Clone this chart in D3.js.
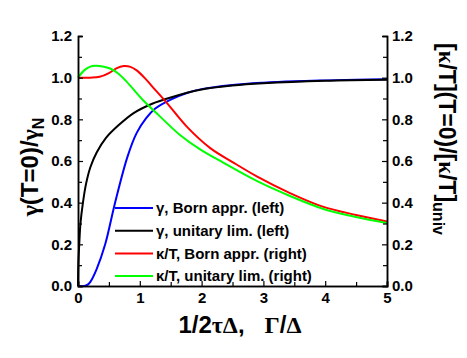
<!DOCTYPE html>
<html>
<head>
<meta charset="utf-8">
<script src="https://cdn.jsdelivr.net/npm/d3@7"></script>
<style>
  body { margin: 0; background: #fff; }
  text { font-family: "Liberation Sans", Arial, sans-serif; font-weight: bold; }
</style>
</head>
<body>
<div id="chart"></div>
<script>
var width = 467, height = 358,
    margin = {top: 36, right: 80, bottom: 72, left: 78};

// gamma, Born approximation (left axis)
var bornGammaX = [0, 0.1, 0.15, 0.2, 0.3, 0.44, 0.6, 0.8, 0.95, 1.1, 1.25, 1.5, 1.75, 2.0, 2.5, 3.0, 3.5, 4.0, 4.5, 5.0];
var bornGammaY = [0, 0, 0.005, 0.02, 0.08, 0.2, 0.4, 0.62, 0.735, 0.805, 0.852, 0.895, 0.925, 0.945, 0.965, 0.976, 0.983, 0.987, 0.99, 0.992];
// gamma, unitary limit (left axis)
var unitGammaX = [0, 0.005, 0.02, 0.04, 0.08, 0.13, 0.2, 0.3, 0.45, 0.65, 0.9, 1.2, 1.5, 2.0, 2.5, 3.0, 4.0, 5.0];
var unitGammaY = [0, 0.1, 0.2, 0.3, 0.4, 0.49, 0.57, 0.64, 0.71, 0.77, 0.83, 0.875, 0.905, 0.943, 0.962, 0.973, 0.985, 0.99];
// kappa/T, Born approximation (right axis)
var bornKappaX = [0, 0.2, 0.35, 0.5, 0.62, 0.74, 0.85, 0.95, 1.1, 1.21, 1.44, 1.76, 2.14, 2.5, 2.9, 3.43, 3.96, 4.5, 5.0];
var bornKappaY = [1.0, 1.0, 1.004, 1.022, 1.045, 1.056, 1.052, 1.035, 0.992, 0.955, 0.878, 0.765, 0.662, 0.595, 0.525, 0.446, 0.381, 0.341, 0.31];
// kappa/T, unitary limit (right axis)
var unitKappaX = [0, 0.1, 0.2, 0.28, 0.4, 0.52, 0.65, 0.79, 1.05, 1.33, 1.65, 1.97, 2.35, 2.9, 3.43, 3.96, 4.5, 5.0];
var unitKappaY = [1.0, 1.035, 1.053, 1.057, 1.054, 1.044, 1.02, 0.98, 0.893, 0.813, 0.725, 0.657, 0.592, 0.503, 0.432, 0.371, 0.331, 0.302];

var xTicks = [0, 1, 2, 3, 4, 5];
var yTicks = [0, 0.2, 0.4, 0.6, 0.8, 1.0, 1.2];

var series = [
  {label: "\u03b3, Born appr. (left)", color: "#0000ff", xs: bornGammaX, ys: bornGammaY},
  {label: "\u03b3, unitary lim. (left)", color: "#000000", xs: unitGammaX, ys: unitGammaY},
  {label: "\u03ba/T, Born appr. (right)", color: "#ff0000", xs: bornKappaX, ys: bornKappaY},
  {label: "\u03ba/T, unitary lim. (right)", color: "#00ff00", xs: unitKappaX, ys: unitKappaY}
];

var w = width - margin.left - margin.right,
    h = height - margin.top - margin.bottom;

var svg = d3.select("#chart").append("svg")
  .attr("width", width)
  .attr("height", height);

var g = svg.append("g")
  .attr("transform", "translate(" + margin.left + "," + margin.top + ")");

var x = d3.scaleLinear().domain([0, 5]).range([0, w]);
var y = d3.scaleLinear().domain([0, 1.2]).range([h, 0]);

var line = d3.line()
  .curve(d3.curveCatmullRom.alpha(0.5))
  .x(function(d) { return x(d[0]); })
  .y(function(d) { return y(d[1]); });

// curves
series.forEach(function(s) {
  g.append("path")
    .datum(d3.zip(s.xs, s.ys))
    .attr("d", line)
    .style("fill", "none")
    .style("stroke", s.color)
    .style("stroke-width", 2);
});

// axes, ticks point inward
var fmt = d3.format(".1f");
var xAxis = g.append("g").attr("transform", "translate(0," + h + ")")
  .call(d3.axisBottom(x).tickValues(xTicks).tickFormat(d3.format("d")).tickSize(-5).tickPadding(6));
xAxis.append("g").call(d3.axisBottom(x).tickValues(d3.range(0.5, 5, 1)).tickSize(-4).tickFormat(""));

var yLeft = g.append("g")
  .call(d3.axisLeft(y).tickValues(yTicks).tickFormat(fmt).tickSize(-5).tickPadding(6));
yLeft.append("g").call(d3.axisLeft(y).tickValues(d3.range(0.1, 1.2, 0.2)).tickSize(-4).tickFormat(""));

var yRight = g.append("g").attr("transform", "translate(" + w + ",0)")
  .call(d3.axisRight(y).tickValues(yTicks).tickFormat(fmt).tickSize(-5).tickPadding(5));
yRight.append("g").call(d3.axisRight(y).tickValues(d3.range(0.1, 1.2, 0.2)).tickSize(-4).tickFormat(""));

g.selectAll(".domain").attr("stroke-width", 1.5);
g.selectAll(".tick line").attr("stroke-width", 1.2);
g.selectAll(".tick text")
  .style("font-size", "15px")
  .style("font-weight", "bold")
  .style("font-family", "'Liberation Sans', Arial, sans-serif");

// legend
var legend = g.append("g").attr("transform", "translate(" + (115 - margin.left) + "," + (208 - margin.top) + ")");
series.forEach(function(s, i) {
  var row = legend.append("g").attr("transform", "translate(0," + i * 22.7 + ")");
  row.append("line").attr("x1", 0).attr("x2", 38)
    .style("stroke", s.color).style("stroke-width", 2);
  row.append("text").attr("x", 41).attr("dy", "0.35em")
    .style("font-size", "15px")
    .text(s.label);
});

// axis titles
svg.append("text")
  .attr("x", 240).attr("y", 333)
  .attr("text-anchor", "middle")
  .style("font-size", "24px")
  .html('1/2<tspan font-family="Liberation Serif">\u03c4\u0394</tspan>,&#160;&#160;&#160;<tspan font-family="Liberation Serif">\u0393</tspan>/<tspan font-family="Liberation Serif">\u0394</tspan>');

svg.append("text")
  .attr("transform", "translate(38,167) rotate(-90)")
  .attr("text-anchor", "middle")
  .style("font-size", "24px")
  .html('<tspan font-family="Liberation Serif">\u03b3</tspan>(T=0)/<tspan font-family="Liberation Serif">\u03b3</tspan><tspan font-size="16px" dy="6">N</tspan>');

svg.append("text")
  .attr("transform", "translate(439,139) rotate(90)")
  .attr("text-anchor", "middle")
  .style("font-size", "23px")
  .html('[<tspan font-family="Liberation Serif">\u03ba</tspan>/T](T=0)/[<tspan font-family="Liberation Serif">\u03ba</tspan>/T]<tspan font-size="16px" dy="6">univ</tspan>');
</script>
</body>
</html>
